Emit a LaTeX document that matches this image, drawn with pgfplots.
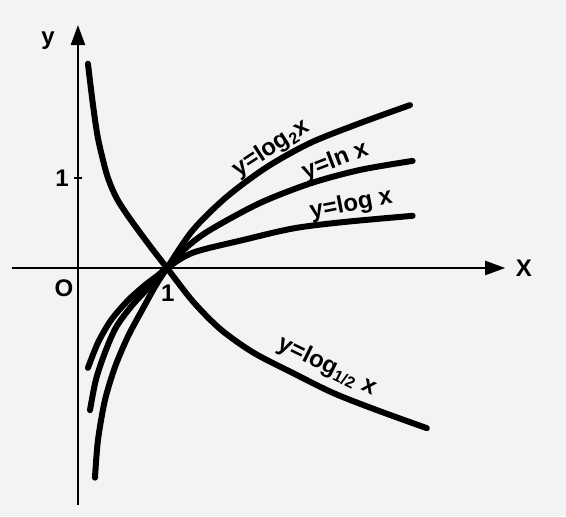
\documentclass[border=0pt]{standalone}
\usepackage{pgfplots}
\pgfplotsset{compat=1.18}
\usepackage{fontspec}
\setmainfont{Liberation Sans}
\usetikzlibrary{arrows.meta}
\definecolor{bg}{RGB}{243,243,243}
\begin{document}
\begin{tikzpicture}[lab/.style={font=\fontsize{12}{14}\selectfont\bfseries, inner sep=1pt}]
\begin{axis}[
  scale only axis, width=283pt, height=258pt,
  xmin=-0.876, xmax=5.483, ymin=-2.756, ymax=2.978,
  axis line style={draw=none}, xtick=\empty, ytick=\empty,
  axis background/.style={fill=bg},
  clip=false,
]
% coordinate axes
\draw[line width=1.1pt, -{Triangle[length=10pt,width=7pt]}] (axis cs:-0.74,0) -- (axis cs:4.80,0);
\draw[line width=1.1pt, -{Triangle[length=10pt,width=7pt]}] (axis cs:0,-2.63) -- (axis cs:0,2.70);
\draw[line width=1.1pt] (axis cs:-0.04,1) -- (axis cs:0.04,1);

% y = log_{1/2} x
\addplot[line width=3pt, smooth, line cap=round, black] coordinates {
 (0.112,2.27) (0.169,1.81) (0.225,1.44) (0.315,1.07) (0.38,0.89) (0.449,0.75)
 (0.54,0.61) (0.64,0.47) (0.82,0.23) (1,0) (1.29,-0.37) (1.60,-0.68) (1.97,-0.94)
 (2.42,-1.17) (2.87,-1.39) (3.36,-1.58) (3.92,-1.78)};
% y = log_2 x
\addplot[line width=3pt, smooth, line cap=round, black] coordinates {
 (0.191,-2.33) (0.225,-1.91) (0.303,-1.47) (0.416,-1.10) (0.562,-0.76) (0.73,-0.45)
 (0.87,-0.2) (1,0) (1.29,0.42) (1.67,0.79) (2.12,1.12) (2.61,1.39) (3.17,1.61) (3.73,1.81)};
% y = ln x
\addplot[line width=3pt, smooth, line cap=round, black] coordinates {
 (0.135,-1.58) (0.202,-1.24) (0.303,-0.94) (0.427,-0.66) (0.596,-0.43) (0.753,-0.26)
 (1,0) (1.22,0.23) (1.48,0.42) (2.04,0.72) (2.61,0.94) (3.17,1.09) (3.76,1.19)};
% y = log x
\addplot[line width=3pt, smooth, line cap=round, black] coordinates {
 (0.112,-1.11) (0.225,-0.83) (0.371,-0.58) (0.562,-0.36) (0.753,-0.19) (0.9,-0.08)
 (1,0) (1.29,0.17) (1.85,0.31) (2.42,0.44) (2.98,0.51) (3.76,0.58)};

% labels
\node[lab, rotate=33] at (axis cs:2.17,1.33) {y=log\textsubscript{2}x};
\node[lab, rotate=21] at (axis cs:2.89,1.19) {y=ln x};
\node[lab, rotate=11] at (axis cs:3.07,0.70) {y=log x};
\node[lab, rotate=-26] at (axis cs:2.80,-1.09) {y=log\textsubscript{1/2} x};
\node[lab] at (axis cs:-0.337,2.53) {y};
\node[lab] at (axis cs:5.01,0) {X};
\node[lab] at (axis cs:-0.157,-0.22) {O};
\node[lab] at (axis cs:1.01,-0.28) {1};
\node[lab] at (axis cs:-0.18,1) {1};
\end{axis}
\end{tikzpicture}
\end{document}
